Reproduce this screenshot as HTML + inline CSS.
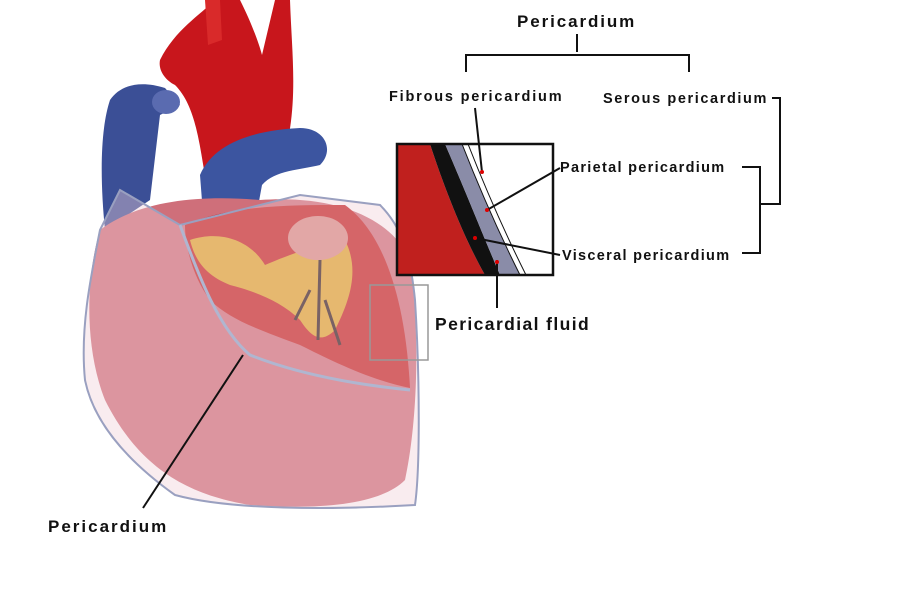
<!DOCTYPE html>
<html><head><meta charset="utf-8"><style>
body{margin:0;background:#fff;width:900px;height:592px;overflow:hidden}
svg{display:block}
text{font-family:"Liberation Sans",sans-serif;font-weight:bold;fill:#111}
</style></head><body>
<svg width="900" height="592" viewBox="0 0 900 592">
<rect width="900" height="592" fill="#fff"/>
<!-- aorta -->
<path d="M160,60 C175,30 200,15 215,0 L240,0 C250,20 258,40 262,55 L275,0 L290,0 C292,60 300,110 280,170 L210,200 C200,160 200,110 175,85 C165,80 158,70 160,60Z" fill="#c8161c"/>
<path d="M205,0 L220,0 L222,40 L208,45Z" fill="#d92a2a"/>
<!-- SVC blue -->
<path d="M110,100 C120,85 140,80 165,88 L180,105 L160,115 L150,200 L105,230 C100,180 100,130 110,100Z" fill="#3b4f96"/>
<ellipse cx="166" cy="102" rx="14" ry="12" fill="#5a6bb0"/>
<!-- pulmonary artery -->
<path d="M200,175 C215,140 260,130 300,128 C325,128 335,150 320,165 C300,170 275,170 262,185 L250,250 L205,240Z" fill="#3c55a0"/>
<!-- heart body under sac -->
<path d="M100,230 C140,200 200,195 260,200 C330,195 390,215 410,260 C420,330 418,420 405,480 C380,505 320,510 250,505 C190,495 140,470 105,400 C85,350 85,280 100,230Z" fill="#cf6f7a"/>
<!-- exposed region -->
<path d="M185,225 C230,205 290,205 345,205 C380,230 405,290 410,388 C370,380 330,360 300,345 C260,330 230,320 210,300 C195,280 185,250 185,225Z" fill="#c41f1f"/>
<path d="M190,240 C220,230 250,240 265,265 C300,250 320,245 345,240 C360,270 350,300 335,330 C320,345 310,335 300,320 C280,300 250,290 230,285 C205,275 195,260 190,240Z" fill="#e0a92a"/>
<ellipse cx="318" cy="238" rx="30" ry="22" fill="#d98c86"/>
<path d="M320,260 L318,340 M310,290 L295,320 M325,300 L340,345" stroke="#2a1a1a" stroke-width="3" fill="none"/>
<!-- pericardium sac outline -->
<path d="M100,230 C90,280 80,330 85,380 C95,430 140,470 175,495 C230,510 330,510 415,505 C420,470 420,380 415,300 C410,250 400,225 380,205 L300,195 L180,225 L120,190 Z" fill="#f0d0d8" fill-opacity="0.4" stroke="#9aa0c0" stroke-width="2"/>
<path d="M180,225 C200,280 220,330 250,355 C300,375 360,385 410,390" stroke="#b0b6d0" stroke-width="3" fill="none"/>
<!-- small box -->
<rect x="370" y="285" width="58" height="75" fill="none" stroke="#999" stroke-width="1.5"/>
<!-- pericardium pointer -->
<line x1="243" y1="355" x2="143" y2="508" stroke="#111" stroke-width="2"/>
<text x="48" y="532" font-size="17" letter-spacing="2">Pericardium</text>
<!-- inset -->
<defs><clipPath id="c"><rect x="397" y="144" width="156" height="131"/></clipPath></defs>
<g clip-path="url(#c)">
<rect x="397" y="144" width="156" height="131" fill="#fff"/>
<path d="M397,144 L430,144 C445,190 465,240 485,275 L397,275Z" fill="#c0201e"/>
<path d="M430,144 L445,144 C465,190 485,240 500,275 L485,275 C465,240 445,190 430,144Z" fill="#111"/>
<path d="M445,144 L462,144 C480,190 500,235 520,275 L500,275 C485,240 465,190 445,144Z" fill="#8a8ca8"/>
<path d="M462,144 L468,144 C486,190 506,235 526,275 L520,275 C500,235 480,190 462,144Z" fill="#fff" stroke="#111" stroke-width="1"/>
</g>
<rect x="397" y="144" width="156" height="131" fill="none" stroke="#111" stroke-width="2.5"/>
<!-- bracket top -->
<text x="517" y="27" font-size="17" letter-spacing="1.9">Pericardium</text>
<path d="M577,34 L577,52 M466,72 L466,55 L689,55 L689,72" stroke="#111" stroke-width="2" fill="none"/>
<text x="389" y="101" font-size="14.5" letter-spacing="1.8">Fibrous pericardium</text>
<text x="603" y="103" font-size="14.5" letter-spacing="1.6">Serous pericardium</text>
<path d="M772,98 L780,98 L780,204 L760,204 M742,167 L760,167 L760,253 L742,253" stroke="#111" stroke-width="2" fill="none"/>
<text x="560" y="172" font-size="14.5" letter-spacing="1.3">Parietal pericardium</text>
<text x="562" y="260" font-size="14.5" letter-spacing="1.3">Visceral pericardium</text>
<text x="435" y="330" font-size="17.5" letter-spacing="1.4">Pericardial fluid</text>
<path d="M475,108 L482,172 M560,168 L487,210 M560,255 L475,238 M497,260 L497,308" stroke="#111" stroke-width="2" fill="none"/>
<circle cx="482" cy="172" r="2" fill="#d00"/><circle cx="487" cy="210" r="2" fill="#d00"/><circle cx="475" cy="238" r="2" fill="#d00"/><circle cx="497" cy="262" r="2" fill="#d00"/>
</svg>
</body></html>
